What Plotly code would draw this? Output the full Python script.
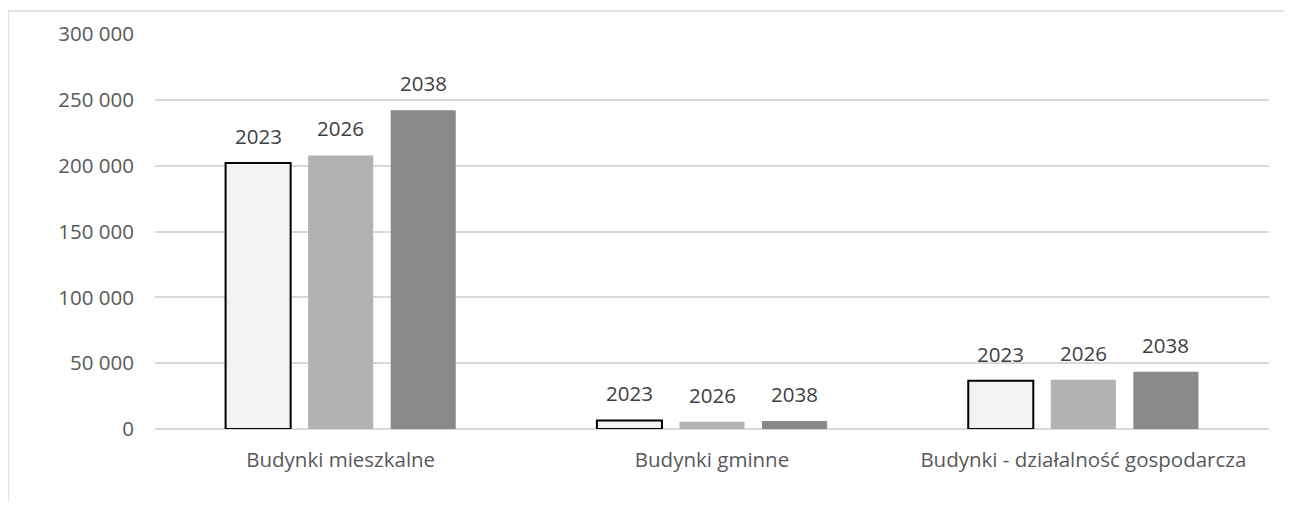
import plotly.graph_objects as go

categories = ["Budynki mieszkalne", "Budynki gminne", "Budynki - działalność gospodarcza"]
years = ["2023", "2026", "2038"]
values_2023 = [202000, 6500, 36600]
values_2026 = [207800, 5500, 37400]
values_2038 = [242100, 6000, 43400]
series = [values_2023, values_2026, values_2038]
tick_vals = [0, 50000, 100000, 150000, 200000, 250000, 300000]
tick_text = ["0", "50 000", "100 000", "150 000", "200 000", "250 000", "300 000"]

fills = ["#f2f2f2", "#b2b2b2", "#898989"]
outlines = [dict(color="#000000", width=2), dict(color="#b2b2b2", width=0), dict(color="#898989", width=0)]

# page body has an 8px margin; figure placed at (8, 8)
OFF = 8
W, H = 1292 - 2 * OFF, 510 - 2 * OFF
plot_l, plot_r, plot_t, plot_b = 155, 1269, 34, 429   # absolute page pixels
ml, mr, mt, mb = plot_l - OFF, (OFF + W) - plot_r, plot_t - OFF, (OFF + H) - plot_b
plot_w, plot_h = plot_r - plot_l, plot_b - plot_t
FONT = "Open Sans"
FS = 20.5

fig = go.Figure()
for yr, vals, fc, ol in zip(years, series, fills, outlines):
    fig.add_trace(go.Bar(x=categories, y=vals, name=yr, marker=dict(color=fc, line=ol)))

# data labels (year names) above each bar
cat_w = plot_w / len(categories)
bargap = 0.333
slot = cat_w * (1 - bargap) / len(years)
for i, (yr, vals) in enumerate(zip(years, series)):
    for c, v in zip(categories, vals):
        fig.add_annotation(x=c, y=v, text=yr, showarrow=False, xanchor="center", yanchor="bottom",
                           xshift=(i - 1) * slot, yshift=11,
                           font=dict(family=FONT, size=FS, color="#404040"))

# outer chart border (left and top edges visible)
fig.add_shape(type="rect", xref="paper", yref="paper",
              x0=(8 - plot_l) / plot_w, x1=(1320 - plot_l) / plot_w,
              y0=-(540 - plot_b) / plot_h, y1=1 + (plot_t - 11) / plot_h,
              line=dict(color="#d9d9d9", width=1.5), fillcolor="rgba(0,0,0,0)", layer="below")

fig.update_layout(
    width=W, height=H,
    margin=dict(l=ml, r=mr, t=mt, b=mb),
    paper_bgcolor="white", plot_bgcolor="white",
    barmode="group", bargap=bargap, bargroupgap=0.212,
    showlegend=False,
    font=dict(family=FONT, size=FS, color="#595959"),
    xaxis=dict(showgrid=False, showline=False, ticks="", ticklabelstandoff=16,
               tickfont=dict(family=FONT, size=FS, color="#595959")),
    yaxis=dict(range=[0, 300000], tickvals=tick_vals, ticktext=tick_text,
               showgrid=True, gridcolor="#d9d9d9", gridwidth=1.5,
               zeroline=True, zerolinecolor="#d9d9d9", zerolinewidth=1.5,
               showline=False, ticks="", ticklabelstandoff=20,
               tickfont=dict(family=FONT, size=FS, color="#595959")),
)

fig.write_html("out.html")
